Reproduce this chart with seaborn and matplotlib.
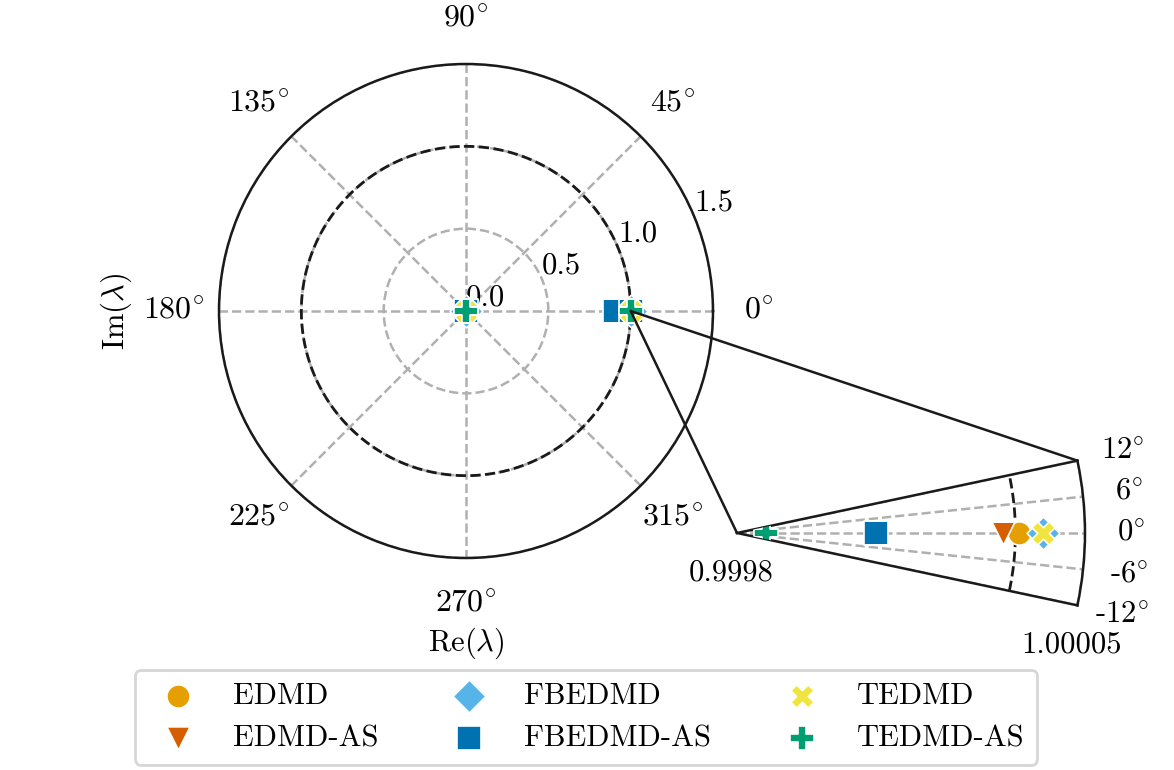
import numpy as np
import pandas as pd
import matplotlib
matplotlib.use("Agg")
import matplotlib.pyplot as plt
import seaborn as sns
from matplotlib.patches import ConnectionPatch

# eigenvalues (all real -> angle 0), one list per method
methods = ["EDMD", "EDMD-AS", "FBEDMD", "FBEDMD-AS", "TEDMD", "TEDMD-AS"]
colors = ["#E69F00", "#D55E00", "#56B4E9", "#0072B2", "#F0E442", "#009E73"]
markers = ["o", "v", "D", "s", "X", "P"]

eig_edmd = [0.0, 1.0000024]
eig_edmd_as = [0.0, 0.999991]
eig_fbedmd = [0.0, 1.00002]
eig_fbedmd_as = [0.0, 0.905, 0.99990]
eig_tedmd = [0.0, 1.00002]
eig_tedmd_as = [0.0, 0.999821]

eigs = [eig_edmd, eig_edmd_as, eig_fbedmd, eig_fbedmd_as, eig_tedmd, eig_tedmd_as]

main_angles = [0, 45, 90, 135, 180, 225, 270, 315]
main_rticks = [0.0, 0.5, 1.0, 1.5]
zoom_angles = [-12, -6, 0, 6, 12]
zoom_rlim = [0.9998, 1.00005]

df = pd.concat(
    [pd.DataFrame({"method": m, "r": e, "theta": 0.0}) for m, e in zip(methods, eigs)],
    ignore_index=True,
)


def deg_label(a):
    sign = "-" if a < 0 else ""
    return f"{sign}${abs(a)}^{{\\circ}}$"


sns.set_theme(style="white")
plt.rcParams.update({
    "font.family": "serif",
    "font.serif": ["cmr10", "DejaVu Serif"],
    "mathtext.fontset": "cm",
    "axes.unicode_minus": False,
    "axes.formatter.use_mathtext": True,
    "text.color": "black",
    "axes.labelcolor": "black",
    "xtick.color": "black",
    "ytick.color": "black",
})

W, H = 1174, 770
fig = plt.figure(figsize=(W / 200, H / 200), dpi=200)

# main polar plot
ax = fig.add_axes([219 / W, (H - 558) / H, 494 / W, 494 / H], projection="polar")
ax.set_rlim(0, 1.5)
ax.set_rticks(main_rticks)
ax.set_yticklabels([f"{v:.1f}" for v in main_rticks], fontsize=11)
ax.set_thetagrids(main_angles, [deg_label(a) for a in main_angles], fontsize=11.5)
ax.grid(True, color="#b0b0b0", linestyle="--", linewidth=0.9)
tt = np.linspace(0, 2 * np.pi, 400)
ax.plot(tt, np.ones_like(tt), color="k", linestyle="--", linewidth=1.0, zorder=2)
for m, c, mk in zip(methods, colors, markers):
    sub = df[df["method"] == m]
    sns.scatterplot(x=sub["theta"].values, y=sub["r"].values, ax=ax, color=c, marker=mk,
                    s=70, edgecolor="white", linewidth=0.6, label=m, zorder=3, legend=False)
ax.set_xlabel(r"Re($\lambda$)", fontsize=11)
ax.set_ylabel(r"Im($\lambda$)", fontsize=11)
ax.xaxis.set_label_coords(0.5, (558 - 626) / 494)
ax.yaxis.set_label_coords((134 - 219) / 494, 0.5)
for sp in ax.spines.values():
    sp.set_color("k")
    sp.set_linewidth(0.9)

# zoomed wedge (matplotlib squares the wedge bbox, so the axes box is square)
R = 348
ax2 = fig.add_axes([737 / W, (H - 533 - R / 2) / H, R / W, R / H], projection="polar")
ax2.set_thetamin(-12)
ax2.set_thetamax(12)
ax2.set_rlim(*zoom_rlim)
ax2.set_rticks(zoom_rlim)
ax2.set_yticklabels(["0.9998", "1.00005"], fontsize=11)
ax2.set_thetagrids(zoom_angles, [deg_label(a) for a in zoom_angles], fontsize=11)
ax2.grid(True, color="#b0b0b0", linestyle="--", linewidth=0.9)
tz = np.linspace(np.deg2rad(-12), np.deg2rad(12), 100)
ax2.plot(tz, np.ones_like(tz), color="k", linestyle="--", linewidth=1.0, zorder=2)
inset = df[(df["r"] >= zoom_rlim[0]) & (df["r"] <= zoom_rlim[1])]
for m, c, mk in zip(methods, colors, markers):
    sub = inset[inset["method"] == m]
    sns.scatterplot(x=sub["theta"].values, y=sub["r"].values, ax=ax2, color=c, marker=mk,
                    s=70, edgecolor="white", linewidth=0.6, zorder=3, legend=False)
ax2.set_xlabel("")
ax2.set_ylabel("")
for sp in ax2.spines.values():
    sp.set_color("k")
    sp.set_linewidth(0.9)

# connector lines
for xyB in [(np.deg2rad(12), zoom_rlim[1]), (0.0, zoom_rlim[0])]:
    con = ConnectionPatch(xyA=(0.0, 1.0), coordsA=ax.transData, xyB=xyB, coordsB=ax2.transData,
                          color="k", linewidth=0.9, zorder=5)
    fig.add_artist(con)

handles, labels = ax.get_legend_handles_labels()
fig.legend(handles, labels, loc="upper center", ncol=3, mode="expand", borderaxespad=0.0,
           bbox_to_anchor=(135 / W, 0.0, 902 / W, (H - 670) / H),
           fontsize=11, frameon=True, edgecolor="0.8", fancybox=True, markerscale=1.0)

fig.savefig("out.png", dpi=200)
